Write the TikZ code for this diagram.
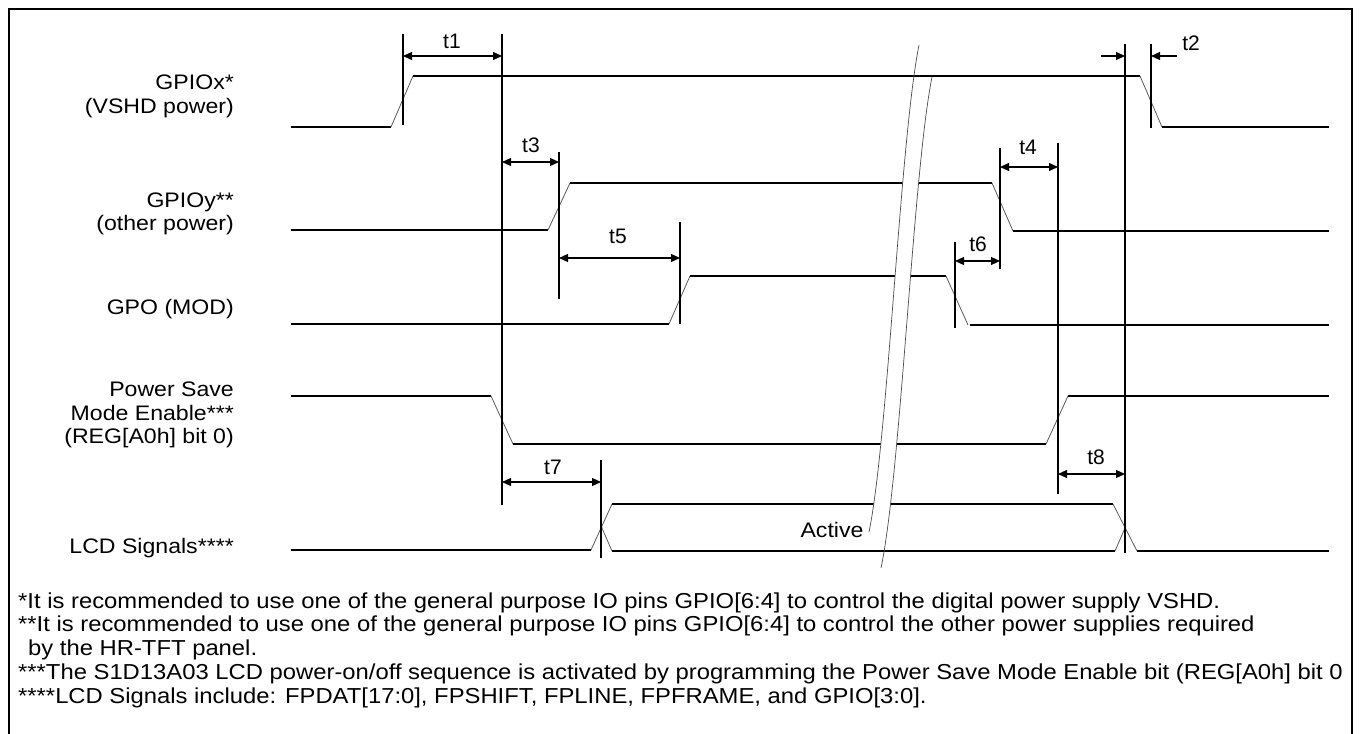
\documentclass[tikz,border=0pt]{standalone}
\usepackage{fontspec}
\setmainfont{Liberation Sans}
\newfontfamily\widesans[FakeStretch=1.1]{Liberation Sans}
\usetikzlibrary{arrows.meta}
\begin{document}
\begin{tikzpicture}[x=1pt,y=-1pt,
  wave/.style={line width=1.3pt, black},
  slope/.style={line width=0.8pt, black!65},
  vline/.style={line width=1.2pt, black},
  dim/.style={line width=1.2pt, {Triangle[length=9pt,width=8pt]}-{Triangle[length=9pt,width=8pt]}},
  onearrow/.style={line width=1.2pt, -{Triangle[length=9pt,width=8pt]}},
  brk/.style={line width=0.7pt, black!70},
  txt/.style={font=\widesans\fontsize{21}{23.5}\selectfont, inner sep=0pt},
  tlab/.style={font=\fontsize{21}{24}\selectfont, inner sep=0pt},
  lab/.style={txt, anchor=east, align=right},
  foot/.style={font=\widesans\fontsize{21.65}{24}\selectfont, inner sep=0pt, anchor=west},
]
\useasboundingbox (0,0) rectangle (1361,734);

% footnotes (clipped by the frame)
\begin{scope}
\clip (9,560) rectangle (1351,734);
\node[foot] (f1) at (18,603) {*It is recommended to use one of the general purpose IO pins GPIO[6:4] to control the digital power supply VSHD.};
\node[foot] (f2) at (18,626) {**It is recommended to use one of the general purpose IO pins GPIO[6:4] to control the other power supplies required};
\node[foot] (f3) at (28,650) {by the HR-TFT panel.};
\node[foot] (f4) at (18,674) {***The S1D13A03 LCD power-on/off sequence is activated by programming the Power Save Mode Enable bit (REG[A0h] bit 0};
\node[foot] (f5) at (18,698) {****LCD Signals include: FPDAT[17:0], FPSHIFT, FPLINE, FPFRAME, and GPIO[3:0].};
\end{scope}

% frame
\draw[line width=2.5pt] (9,734) -- (9,9) -- (1352,9) -- (1352,734);

% signal labels
\node[lab] (lx) at (234,96.5) {GPIOx*\\(VSHD power)};
\node[lab] (ly) at (234,214) {GPIOy**\\(other power)};
\node[lab] (lg) at (234,309) {GPO (MOD)};
\node[lab] (lp) at (234,415) {Power Save\\Mode Enable***\\(REG[A0h] bit 0)};
\node[lab] (ll) at (234,548) {LCD Signals****};

% GPIOx
\draw[wave] (291,127) -- (391,127);
\draw[slope] (391,127) -- (413,76);
\draw[wave] (413,76) -- (1140,76);
\draw[slope] (1140,76) -- (1162,127);
\draw[wave] (1162,127) -- (1329,127);
% GPIOy
\draw[wave] (291,230) -- (548,230);
\draw[slope] (548,230) -- (570,183);
\draw[wave] (570,183) -- (992,183);
\draw[slope] (992,183) -- (1013,231);
\draw[wave] (1013,231) -- (1329,231);
% GPO
\draw[wave] (291,324) -- (669,324);
\draw[slope] (669,324) -- (690,276);
\draw[wave] (690,276) -- (946,276);
\draw[slope] (946,276) -- (968,325);
\draw[wave] (970,325) -- (1329,325);
% Power save
\draw[wave] (291,396) -- (491,396);
\draw[slope] (491,396) -- (513,444);
\draw[wave] (513,444) -- (1046,444);
\draw[slope] (1046,444) -- (1068,396);
\draw[wave] (1068,396) -- (1329,396);
% LCD
\draw[wave] (291,550) -- (591,550);
\draw[slope] (591,550) -- (612,504);
\draw[slope] (601.5,527) -- (612,551);
\draw[wave] (612,504) -- (1113,504);
\draw[wave] (612,551) -- (1115,551);
\draw[slope] (1113,504) -- (1137,551);
\draw[slope] (1115,551) -- (1125,528);
\draw[wave] (1137,551) -- (1329,551);
\node[txt] (act) at (832,530) {Active};

% break
\begin{scope}
\clip (0,86) rectangle (1361,541);
\fill[white] (919,45) .. controls (900,140) and (888,440) .. (869,532)
  -- (869,570) -- (881,568) .. controls (901,472) and (913,172) .. (932,77) -- (932,40) -- cycle;
\end{scope}
\draw[brk] (919,45) .. controls (900,140) and (888,440) .. (869,532);
\draw[brk] (932,77) .. controls (913,172) and (901,472) .. (881,568);

% marker lines
\coordinate (m1) at (403,34);   \draw[vline] (m1) -- (403,125);
\coordinate (m2) at (502,34);   \draw[vline] (m2) -- (502,505);
\coordinate (m3) at (559,152);  \draw[vline] (m3) -- (559,299);
\coordinate (m5) at (680,222);  \draw[vline] (m5) -- (680,324);
\coordinate (m7) at (601,460);  \draw[vline] (m7) -- (601,558);
\coordinate (m6) at (955,242);  \draw[vline] (m6) -- (955,328);
\coordinate (m4) at (1000,148); \draw[vline] (m4) -- (1000,269);
\coordinate (m8) at (1058,143); \draw[vline] (m8) -- (1058,494);
\coordinate (m9) at (1125,44);  \draw[vline] (m9) -- (1125,553);
\coordinate (m10) at (1151,44); \draw[vline] (m10) -- (1151,128);

% dimensions
\draw[dim] (403,56) -- (502,56);   \node[tlab] (t1) at (452,41) {t1};
\draw[dim] (502,162) -- (559,162); \node[tlab] (t3) at (531,145) {t3};
\draw[dim] (559,258) -- (680,258); \node[tlab] (t5) at (618,236) {t5};
\draw[dim] (1000,167) -- (1058,167); \node[tlab] (t4) at (1028,147) {t4};
\draw[dim] (955,261) -- (1000,261); \node[tlab] (t6) at (978,244) {t6};
\draw[dim] (502,482) -- (601,482); \node[tlab] (t7) at (553,467) {t7};
\draw[dim] (1058,474) -- (1125,474); \node[tlab] (t8) at (1096,457) {t8};
\draw[onearrow] (1101,56) -- (1125,56);
\draw[onearrow] (1177,56) -- (1151,56);
\node[tlab] (t2) at (1191,43) {t2};
\end{tikzpicture}
\end{document}
